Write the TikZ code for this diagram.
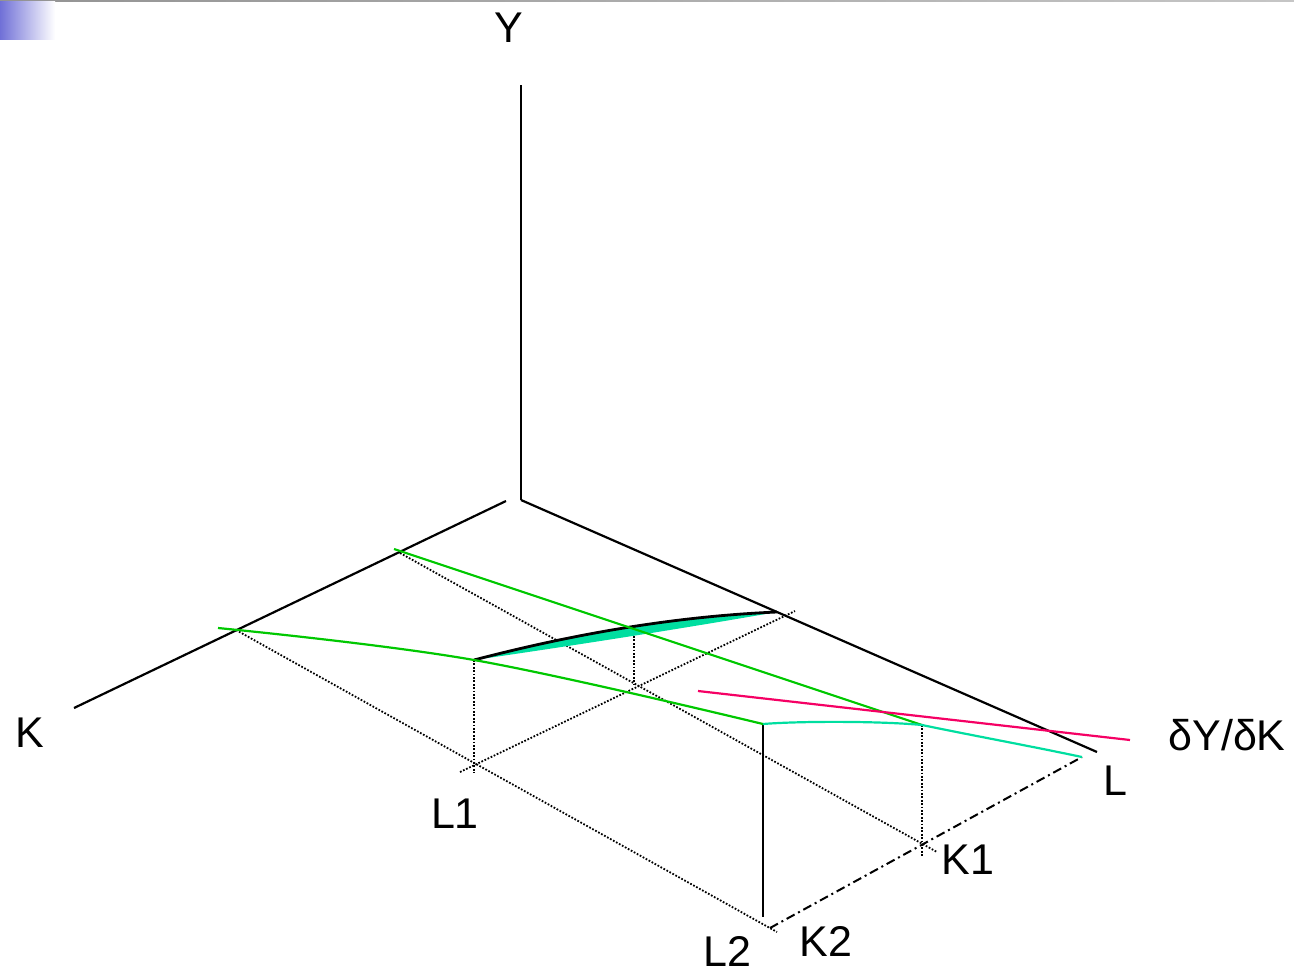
\documentclass[tikz,border=0pt]{standalone}
\usepackage{fontspec}
\setmainfont{Liberation Sans}
\begin{document}
\begin{tikzpicture}[x=1pt,y=-1pt,
  axis/.style={line width=2.2pt,black},
  grn/.style={line width=2.2pt,color=lgreen},
  cyn/.style={line width=2.2pt,color=tq},
  dots/.style={line width=1.8pt,dash pattern=on 1.7pt off 1.7pt},
  dashdot/.style={line width=2pt,dash pattern=on 9pt off 4pt on 2pt off 4pt},
  lab/.style={font=\fontsize{43}{50}\selectfont,inner sep=0pt}]
\definecolor{lgreen}{RGB}{0,200,0}
\definecolor{tq}{RGB}{0,222,160}
\definecolor{pinkred}{RGB}{245,0,100}
\definecolor{barblue}{RGB}{112,112,215}
\useasboundingbox (0,0) rectangle (1294,975);
% top decoration
\shade[left color=gray!85,right color=gray!45] (0,0) rectangle (1294,1.6);
\shade[left color=barblue,right color=white] (0,1.6) rectangle (55,39);
% axes
\coordinate (O) at (521,500);
\coordinate (Ok) at (506,501);
\coordinate (Ytop) at (521,85);
\coordinate (Kend) at (74,708);
\coordinate (Lend) at (1097,752);
\draw[axis] (O) -- (Ytop);
\draw[axis] (Ok) -- (Kend);
\draw[axis] (O) -- (Lend);
% key points
\coordinate (A) at (218,628);
\coordinate (B) at (394,549);
\coordinate (P) at (474,660);
\coordinate (Q) at (777,612);
\coordinate (M) at (763,724);
\coordinate (N) at (922,725);
\coordinate (E) at (1082,757);
\coordinate (L1p) at (460,772);
\coordinate (K1p) at (922,845);
\coordinate (K2p) at (770,928);
% dotted projection lines
\draw[dots] (236,630) -- (777,932);
\draw[dots] (400,553) -- (937,852);
\draw[dots] (L1p) -- (795,611);
\draw[dots] (P) -- (474,773);
\draw[dots] (634,636) -- (634,684);
\draw[dots] (N) -- (922,856);
% dash-dot base line
\draw[dashdot] (K2p) -- (E);
% solid vertical
\draw[line width=2.8pt] (M) -- (763,917);
% cyan lens with black top edge
\fill[tq] (P) .. controls (581,632) and (682,616) .. (Q) -- (Q) .. controls (680,629) and (570,646) .. (P) -- cycle;
\draw[line width=2.8pt] (P) .. controls (581,632) and (682,616) .. (Q);
% green curves
\draw[grn] plot[smooth,tension=0.6] coordinates {(A) (P) (M)};
\draw[grn] (B) -- (N);
% cyan curve
\draw[cyn] (M) .. controls (800,721) and (880,721) .. (N) .. controls (970,735) and (1030,746) .. (E);
% pink line
\coordinate (R1) at (698,691);
\coordinate (R2) at (1130,740);
\draw[line width=2.2pt,pinkred] (R1) -- (R2);
% labels
\node[lab] (ly) at (509,28) {Y};
\node[lab] (lk) at (30,733) {K};
\node[lab] (ll) at (1115,781) {L};
\node[lab] (ld) at (1227,735) {δY/δK};
\node[lab] (l1) at (455,814) {L1};
\node[lab] (k1) at (968,860) {K1};
\node[lab] (l2) at (727,951) {L2};
\node[lab] (k2) at (826,941) {K2};
\end{tikzpicture}
\end{document}
